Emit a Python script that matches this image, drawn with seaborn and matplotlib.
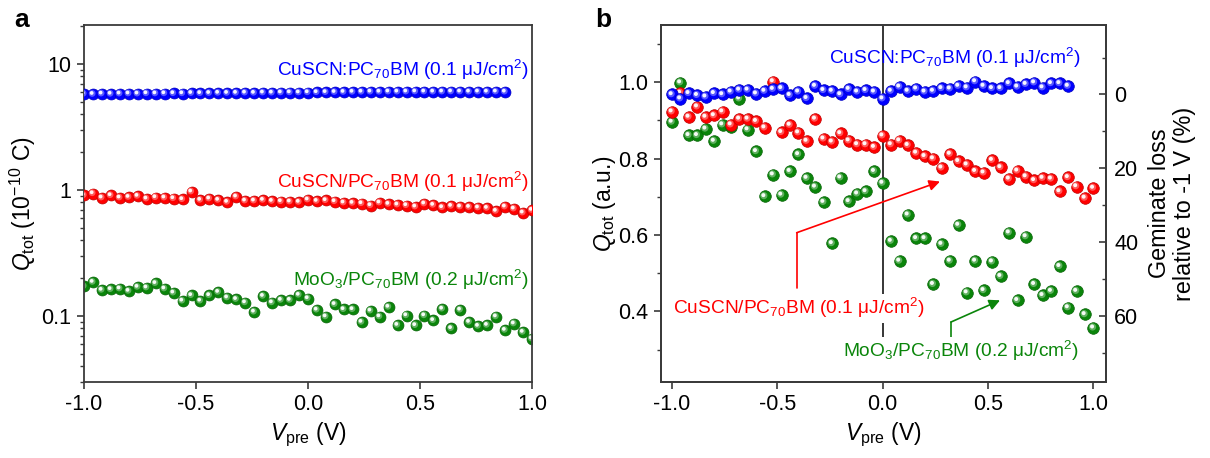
import numpy as np
import pandas as pd
import matplotlib
matplotlib.use("Agg")
import matplotlib.pyplot as plt
import matplotlib.transforms as mtransforms
from matplotlib.ticker import LogLocator, NullFormatter, FixedLocator
import seaborn as sns

# ---------------- data ----------------
voltage = [-1.00, -0.96, -0.92, -0.88, -0.84, -0.80, -0.76, -0.72, -0.68, -0.64,
           -0.60, -0.56, -0.52, -0.48, -0.44, -0.40, -0.36, -0.32, -0.28, -0.24,
           -0.20, -0.16, -0.12, -0.08, -0.04, 0.00, 0.04, 0.08, 0.12, 0.16,
           0.20, 0.24, 0.28, 0.32, 0.36, 0.40, 0.44, 0.48, 0.52, 0.56,
           0.60, 0.64, 0.68, 0.72, 0.76, 0.80, 0.84, 0.88, 0.92, 0.96, 1.00]
voltage_blue = voltage[:48]

# panel a: total extracted charge (10^-10 C)
qa_blue = [5.80, 5.78, 5.82, 5.80, 5.82, 5.83, 5.82, 5.85, 5.84, 5.85, 5.86, 5.85,
           5.88, 5.87, 5.88, 5.90, 5.89, 5.90, 5.92, 5.90, 5.93, 5.92, 5.94, 5.95,
           5.94, 5.96, 5.97, 5.98, 5.99, 6.00, 6.01, 6.02, 6.03, 6.02, 6.04, 6.03,
           6.04, 6.05, 6.04, 6.03, 6.04, 6.05, 6.04, 6.03, 6.04, 6.03, 6.04, 6.03]
qa_red = [0.908, 0.941, 0.870, 0.908, 0.870, 0.880, 0.897, 0.854, 0.875, 0.870,
          0.859, 0.844, 0.971, 0.834, 0.854, 0.834, 0.804, 0.886, 0.823, 0.823,
          0.834, 0.818, 0.813, 0.809, 0.804, 0.839, 0.818, 0.829, 0.813, 0.794,
          0.789, 0.784, 0.756, 0.794, 0.775, 0.765, 0.756, 0.738, 0.780, 0.761,
          0.729, 0.747, 0.738, 0.733, 0.725, 0.720, 0.682, 0.738, 0.711, 0.661, 0.694]
qa_green = [0.172, 0.186, 0.161, 0.163, 0.165, 0.158, 0.170, 0.168, 0.182, 0.165,
            0.153, 0.132, 0.146, 0.132, 0.146, 0.155, 0.140, 0.136, 0.128, 0.108,
            0.144, 0.128, 0.134, 0.134, 0.147, 0.138, 0.112, 0.099, 0.124, 0.113,
            0.113, 0.0896, 0.110, 0.099, 0.118, 0.0848, 0.101, 0.0844, 0.101, 0.0925,
            0.114, 0.0799, 0.112, 0.0896, 0.0833, 0.0848, 0.099, 0.0774, 0.0870, 0.0746, 0.0662]

# panel b: normalised charge (a.u.)
qb_blue = [0.968, 0.957, 0.971, 0.966, 0.962, 0.971, 0.968, 0.975, 0.980, 0.980,
           0.970, 0.977, 0.982, 0.984, 0.966, 0.975, 0.958, 0.990, 0.979, 0.977,
           0.968, 0.982, 0.975, 0.979, 0.975, 0.957, 0.977, 0.988, 0.977, 0.983,
           0.975, 0.977, 0.984, 0.983, 0.990, 0.986, 1.002, 0.990, 0.984, 0.984,
           0.997, 0.988, 0.995, 0.999, 0.986, 0.997, 0.997, 0.990]
qb_red = [0.923, 0.972, 0.909, 0.936, 0.909, 0.913, 0.923, 0.889, 0.904, 0.904,
          0.898, 0.881, 1.002, 0.869, 0.888, 0.868, 0.846, 0.904, 0.852, 0.844,
          0.866, 0.847, 0.837, 0.837, 0.830, 0.860, 0.837, 0.847, 0.835, 0.815,
          0.806, 0.800, 0.776, 0.812, 0.793, 0.784, 0.767, 0.763, 0.796, 0.777,
          0.747, 0.768, 0.753, 0.743, 0.749, 0.747, 0.714, 0.751, 0.727, 0.697, 0.723]
qb_green = [0.896, 0.999, 0.861, 0.861, 0.878, 0.846, 0.889, 0.882, 0.957, 0.876,
            0.819, 0.701, 0.758, 0.705, 0.767, 0.811, 0.749, 0.726, 0.686, 0.578,
            0.750, 0.688, 0.708, 0.714, 0.767, 0.736, 0.584, 0.532, 0.653, 0.591,
            0.591, 0.471, 0.576, 0.532, 0.626, 0.449, 0.532, 0.455, 0.530, 0.492,
            0.606, 0.429, 0.596, 0.471, 0.442, 0.453, 0.518, 0.410, 0.453, 0.392, 0.357]

q_ref = 0.968  # Q at -1 V used for geminate-loss axis

label_blue = "CuSCN:PC$_{70}$BM (0.1 μJ/cm$^{2}$)"
label_red = "CuSCN/PC$_{70}$BM (0.1 μJ/cm$^{2}$)"
label_green = "MoO$_{3}$/PC$_{70}$BM (0.2 μJ/cm$^{2}$)"

# annotation arrows (panel b, data coords)
red_arrow_path = [(-0.408, 0.460), (-0.408, 0.606), (0.272, 0.740)]
green_arrow_path = [(0.324, 0.316), (0.324, 0.372), (0.557, 0.429)]

# ---------------- style ----------------
sns.set_theme(style="ticks")
plt.rcParams["font.family"] = ["Liberation Sans", "DejaVu Sans"]
plt.rcParams["mathtext.fontset"] = "custom"
plt.rcParams["mathtext.rm"] = "Liberation Sans"
plt.rcParams["mathtext.it"] = "Liberation Sans:italic"
plt.rcParams["mathtext.bf"] = "Liberation Sans:bold"
plt.rcParams["text.color"] = "black"
plt.rcParams["axes.labelcolor"] = "black"

BLUE = "#0000ff"
RED = "#ff0000"
GREEN = "#0a850a"
SPINE = "#3a3a3a"
TICKFS = 15.5
LABFS = 16.5
ANNFS = 13.8

fig = plt.figure(figsize=(12.10, 4.58), dpi=100)
axa = fig.add_axes([84 / 1210, 76 / 458, 448 / 1210, 357 / 458])
axb = fig.add_axes([661 / 1210, 76 / 458, 445 / 1210, 357 / 458])


def lighten(c, f):
    rgb = np.array(matplotlib.colors.to_rgb(c))
    return tuple(rgb + (1 - rgb) * f)


def darken(c, f):
    rgb = np.array(matplotlib.colors.to_rgb(c))
    return tuple(rgb * (1 - f))


def balls(ax, x, y, color, size, z):
    df = pd.DataFrame({"x": x, "y": y})
    sns.scatterplot(data=df, x="x", y="y", ax=ax, color=color, s=size,
                    edgecolor=darken(color, 0.25), linewidth=0.5, zorder=z,
                    legend=False)
    t1 = mtransforms.offset_copy(ax.transData, fig=ax.figure, x=-0.8, y=0.8, units="dots")
    ax.scatter(x, y, s=size * 0.38, color=lighten(color, 0.35), edgecolor="none",
               transform=t1, zorder=z + 0.1)
    t2 = mtransforms.offset_copy(ax.transData, fig=ax.figure, x=-1.3, y=1.3, units="dots")
    ax.scatter(x, y, s=size * 0.12, color="white", alpha=0.95, edgecolor="none",
               transform=t2, zorder=z + 0.2)


def style_spines(ax):
    for s in ax.spines.values():
        s.set_color(SPINE)
        s.set_linewidth(1.3)
        s.set_visible(True)


# ---------------- panel a ----------------
SA = 62
balls(axa, voltage, qa_green, GREEN, SA, 2)
balls(axa, voltage, qa_red, RED, SA, 3)
balls(axa, voltage_blue, qa_blue, BLUE, SA, 4)
axa.set_yscale("log")
axa.set_xlim(-1.0, 1.0)
axa.set_ylim(0.03, 20.5)
axa.yaxis.set_major_locator(FixedLocator([0.1, 1, 10]))
axa.set_yticklabels(["0.1", "1", "10"])
axa.yaxis.set_minor_locator(LogLocator(base=10, subs=np.arange(2, 10)))
axa.yaxis.set_minor_formatter(NullFormatter())
axa.set_xticks([-1.0, -0.5, 0.0, 0.5, 1.0])
axa.set_xticklabels(["-1.0", "-0.5", "0.0", "0.5", "1.0"])
axa.tick_params(axis="both", which="major", direction="out", length=5, width=1.2,
                color=SPINE, labelcolor="black", labelsize=TICKFS, pad=4)
axa.tick_params(axis="y", which="minor", direction="out", length=3, width=1.0, color=SPINE)
axa.tick_params(top=False, right=False)
style_spines(axa)
axa.set_xlabel("$\\mathit{V}_{\\rm pre}$ (V)", fontsize=LABFS, labelpad=4)
axa.set_ylabel("$\\mathit{Q}_{\\rm tot}$ (10$^{-10}$ C)", fontsize=LABFS)
axa.yaxis.set_label_coords(-0.103, 0.5)

axa.text(0.985, 8.1, label_blue, color=BLUE, fontsize=ANNFS, ha="right", va="baseline")
axa.text(0.985, 1.045, label_red, color=RED, fontsize=ANNFS, ha="right", va="baseline")
axa.text(0.985, 0.173, label_green, color=GREEN, fontsize=ANNFS, ha="right", va="baseline")

# ---------------- panel b ----------------
SB = 70
balls(axb, voltage, qb_green, GREEN, SB, 2)
balls(axb, voltage, qb_red, RED, SB, 3)
balls(axb, voltage_blue, qb_blue, BLUE, SB, 4)
axb.set_xlim(-1.052, 1.06)
axb.set_ylim(0.215, 1.15)
axb.axvline(0.0, ymin=(382 - 340) / 356, ymax=1.0, color="black", lw=1.1, zorder=1)
axb.set_xticks([-1.0, -0.5, 0.0, 0.5, 1.0])
axb.set_xticklabels(["-1.0", "-0.5", "0.0", "0.5", "1.0"])
axb.set_yticks([0.4, 0.6, 0.8, 1.0])
axb.set_yticklabels(["0.4", "0.6", "0.8", "1.0"])
axb.yaxis.set_minor_locator(FixedLocator([0.3, 0.5, 0.7, 0.9, 1.1]))
axb.tick_params(axis="both", which="major", direction="out", length=5, width=1.2,
                color=SPINE, labelcolor="black", labelsize=TICKFS, pad=4)
axb.tick_params(axis="y", which="minor", direction="out", length=3, width=1.0, color=SPINE)
axb.tick_params(top=False, right=False)
style_spines(axb)
axb.set_xlabel("$\\mathit{V}_{\\rm pre}$ (V)", fontsize=LABFS, labelpad=4)
axb.set_ylabel("$\\mathit{Q}_{\\rm tot}$ (a.u.)", fontsize=LABFS)
axb.yaxis.set_label_coords(-0.097, 0.5)

# right axis: geminate loss relative to -1 V
axr = axb.twinx()
lo, hi = axb.get_ylim()
axr.set_ylim((1 - lo / q_ref) * 100, (1 - hi / q_ref) * 100)
axr.set_yticks([0, 20, 40, 60])
axr.yaxis.set_minor_locator(FixedLocator([-10, 10, 30, 50, 70]))
axr.tick_params(axis="y", which="major", direction="in", length=5, width=1.2,
                color=SPINE, labelcolor="black", labelsize=TICKFS, pad=6)
axr.tick_params(axis="y", which="minor", direction="in", length=3, width=1.0, color=SPINE)
axr.grid(False)
style_spines(axr)
axr.set_ylabel("Geminate loss\nrelative to -1 V (%)", fontsize=16.8, linespacing=1.1)
axr.yaxis.set_label_coords(1.094, 0.5)

axb.text(0.94, 1.049, label_blue, color=BLUE, fontsize=ANNFS, ha="right", va="baseline", zorder=6)
axb.text(-0.997, 0.392, label_red, color=RED, fontsize=ANNFS, ha="left", va="baseline", zorder=6,
         bbox=dict(facecolor="white", edgecolor="none", pad=1.5))
axb.text(0.93, 0.280, label_green, color=GREEN, fontsize=ANNFS, ha="right", va="baseline", zorder=6,
         bbox=dict(facecolor="white", edgecolor="none", pad=1.5))

for path, col in ((red_arrow_path, RED), (green_arrow_path, GREEN)):
    axb.plot([path[0][0], path[1][0]], [path[0][1], path[1][1]], color=col, lw=1.2, zorder=5)
    axb.annotate("", xy=path[2], xytext=path[1],
                 arrowprops=dict(arrowstyle="-|>", color=col, lw=1.2, mutation_scale=16,
                                 shrinkA=0, shrinkB=0), zorder=5)

fig.text(14 / 1210, 1 - 20 / 458, "a", fontsize=19, fontweight="bold", va="center", ha="left")
fig.text(595 / 1210, 1 - 20 / 458, "b", fontsize=19, fontweight="bold", va="center", ha="left")

fig.savefig("out.png", dpi=100)
